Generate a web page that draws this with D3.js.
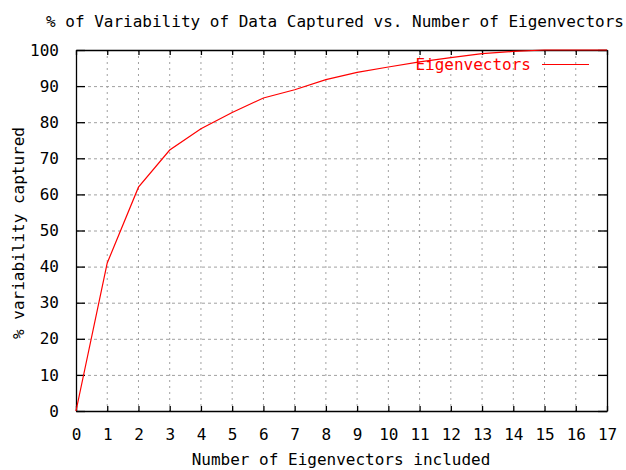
<!DOCTYPE html>
<html>
<head>
<meta charset="utf-8">
<script src="https://cdn.jsdelivr.net/npm/d3@7"></script>
<style>
  body { margin: 0; background: #fff; }
  text { font-family: "DejaVu Sans Mono", monospace; font-size: 16px; }
</style>
</head>
<body>
<svg width="626" height="470"></svg>
<script>
const eigenvectors = [0, 1, 2, 3, 4, 5, 6, 7, 8, 9, 10, 11, 12, 13, 14, 15, 16, 17];
const captured = [0, 41, 62, 72.3, 78.2, 82.7, 86.7, 89, 91.8, 93.8, 95.3, 96.7, 97.9, 99, 99.6, 100, 100, 100];
const xTicks = d3.range(0, 18);
const yTicks = d3.range(0, 101, 10);

const canvas = d3.select("svg");

const plotLeft = 76, plotRight = 607, plotTop = 50, plotBottom = 411;

const x = d3.scaleLinear().domain([0, 17]).range([plotLeft, plotRight]);
const y = d3.scaleLinear().domain([0, 100]).range([plotBottom, plotTop]);

// grid
canvas
  .append("g")
  .selectAll("line")
  .data(xTicks.slice(1, -1))
  .enter()
  .append("line")
  .attr("x1", d => x(d))
  .attr("x2", d => x(d))
  .attr("y1", plotTop)
  .attr("y2", plotBottom)
  .style("stroke", "#a0a0a0")
  .style("stroke-dasharray", "2,4");

canvas
  .append("g")
  .selectAll("line")
  .data(yTicks.slice(1, -1))
  .enter()
  .append("line")
  .attr("x1", plotLeft)
  .attr("x2", plotRight)
  .attr("y1", d => y(d) + 0.5)
  .attr("y2", d => y(d) + 0.5)
  .style("stroke", "#a0a0a0")
  .style("stroke-dasharray", "3,3");

// axes, ticks pointing inwards on all four sides
const axisBottom = canvas
  .append("g")
  .attr("transform", `translate(0,${plotBottom})`)
  .call(d3.axisBottom(x).tickValues(xTicks).tickSizeInner(-5).tickSizeOuter(0).tickPadding(18));

const axisTop = canvas
  .append("g")
  .attr("transform", `translate(0,${plotTop})`)
  .call(d3.axisTop(x).tickValues(xTicks).tickSizeInner(-5).tickSizeOuter(0).tickFormat(""));

const axisLeft = canvas
  .append("g")
  .attr("transform", `translate(${plotLeft},0)`)
  .call(d3.axisLeft(y).tickValues(yTicks).tickSizeInner(-9).tickSizeOuter(0).tickPadding(17));

const axisRight = canvas
  .append("g")
  .attr("transform", `translate(${plotRight},0)`)
  .call(d3.axisRight(y).tickValues(yTicks).tickSizeInner(-9).tickSizeOuter(0).tickFormat(""));

[axisBottom, axisTop, axisLeft, axisRight].forEach(a => {
  a.selectAll(".domain").style("stroke", "#000").style("stroke-width", 1.3);
  a.selectAll(".tick line").style("stroke", "#000").style("stroke-width", 1.3);
  a.selectAll("text")
    .style("font-family", "'DejaVu Sans Mono', monospace")
    .style("font-size", "16px")
    .style("fill", "#000");
});

// curve
canvas
  .append("path")
  .datum(eigenvectors.map((e, i) => [e, captured[i]]))
  .attr("d", d3.line().x(d => x(d[0])).y(d => y(d[1])))
  .style("fill", "none")
  .style("stroke", "#ff0000")
  .style("stroke-width", 1.2);

// legend
canvas
  .append("text")
  .attr("x", 531)
  .attr("y", 70)
  .attr("text-anchor", "end")
  .style("fill", "#ff0000")
  .text("Eigenvectors");

canvas
  .append("line")
  .attr("x1", 542)
  .attr("x2", 589)
  .attr("y1", 64.5)
  .attr("y2", 64.5)
  .style("stroke", "#ff0000")
  .style("stroke-width", 1.2);

// titles
canvas
  .append("text")
  .attr("x", 335)
  .attr("y", 27)
  .attr("text-anchor", "middle")
  .text("% of Variability of Data Captured vs. Number of Eigenvectors");

canvas
  .append("text")
  .attr("x", 341)
  .attr("y", 465)
  .attr("text-anchor", "middle")
  .text("Number of Eigenvectors included");

canvas
  .append("text")
  .attr("transform", "translate(24,233) rotate(-90)")
  .attr("text-anchor", "middle")
  .text("% variability captured");
</script>
</body>
</html>
